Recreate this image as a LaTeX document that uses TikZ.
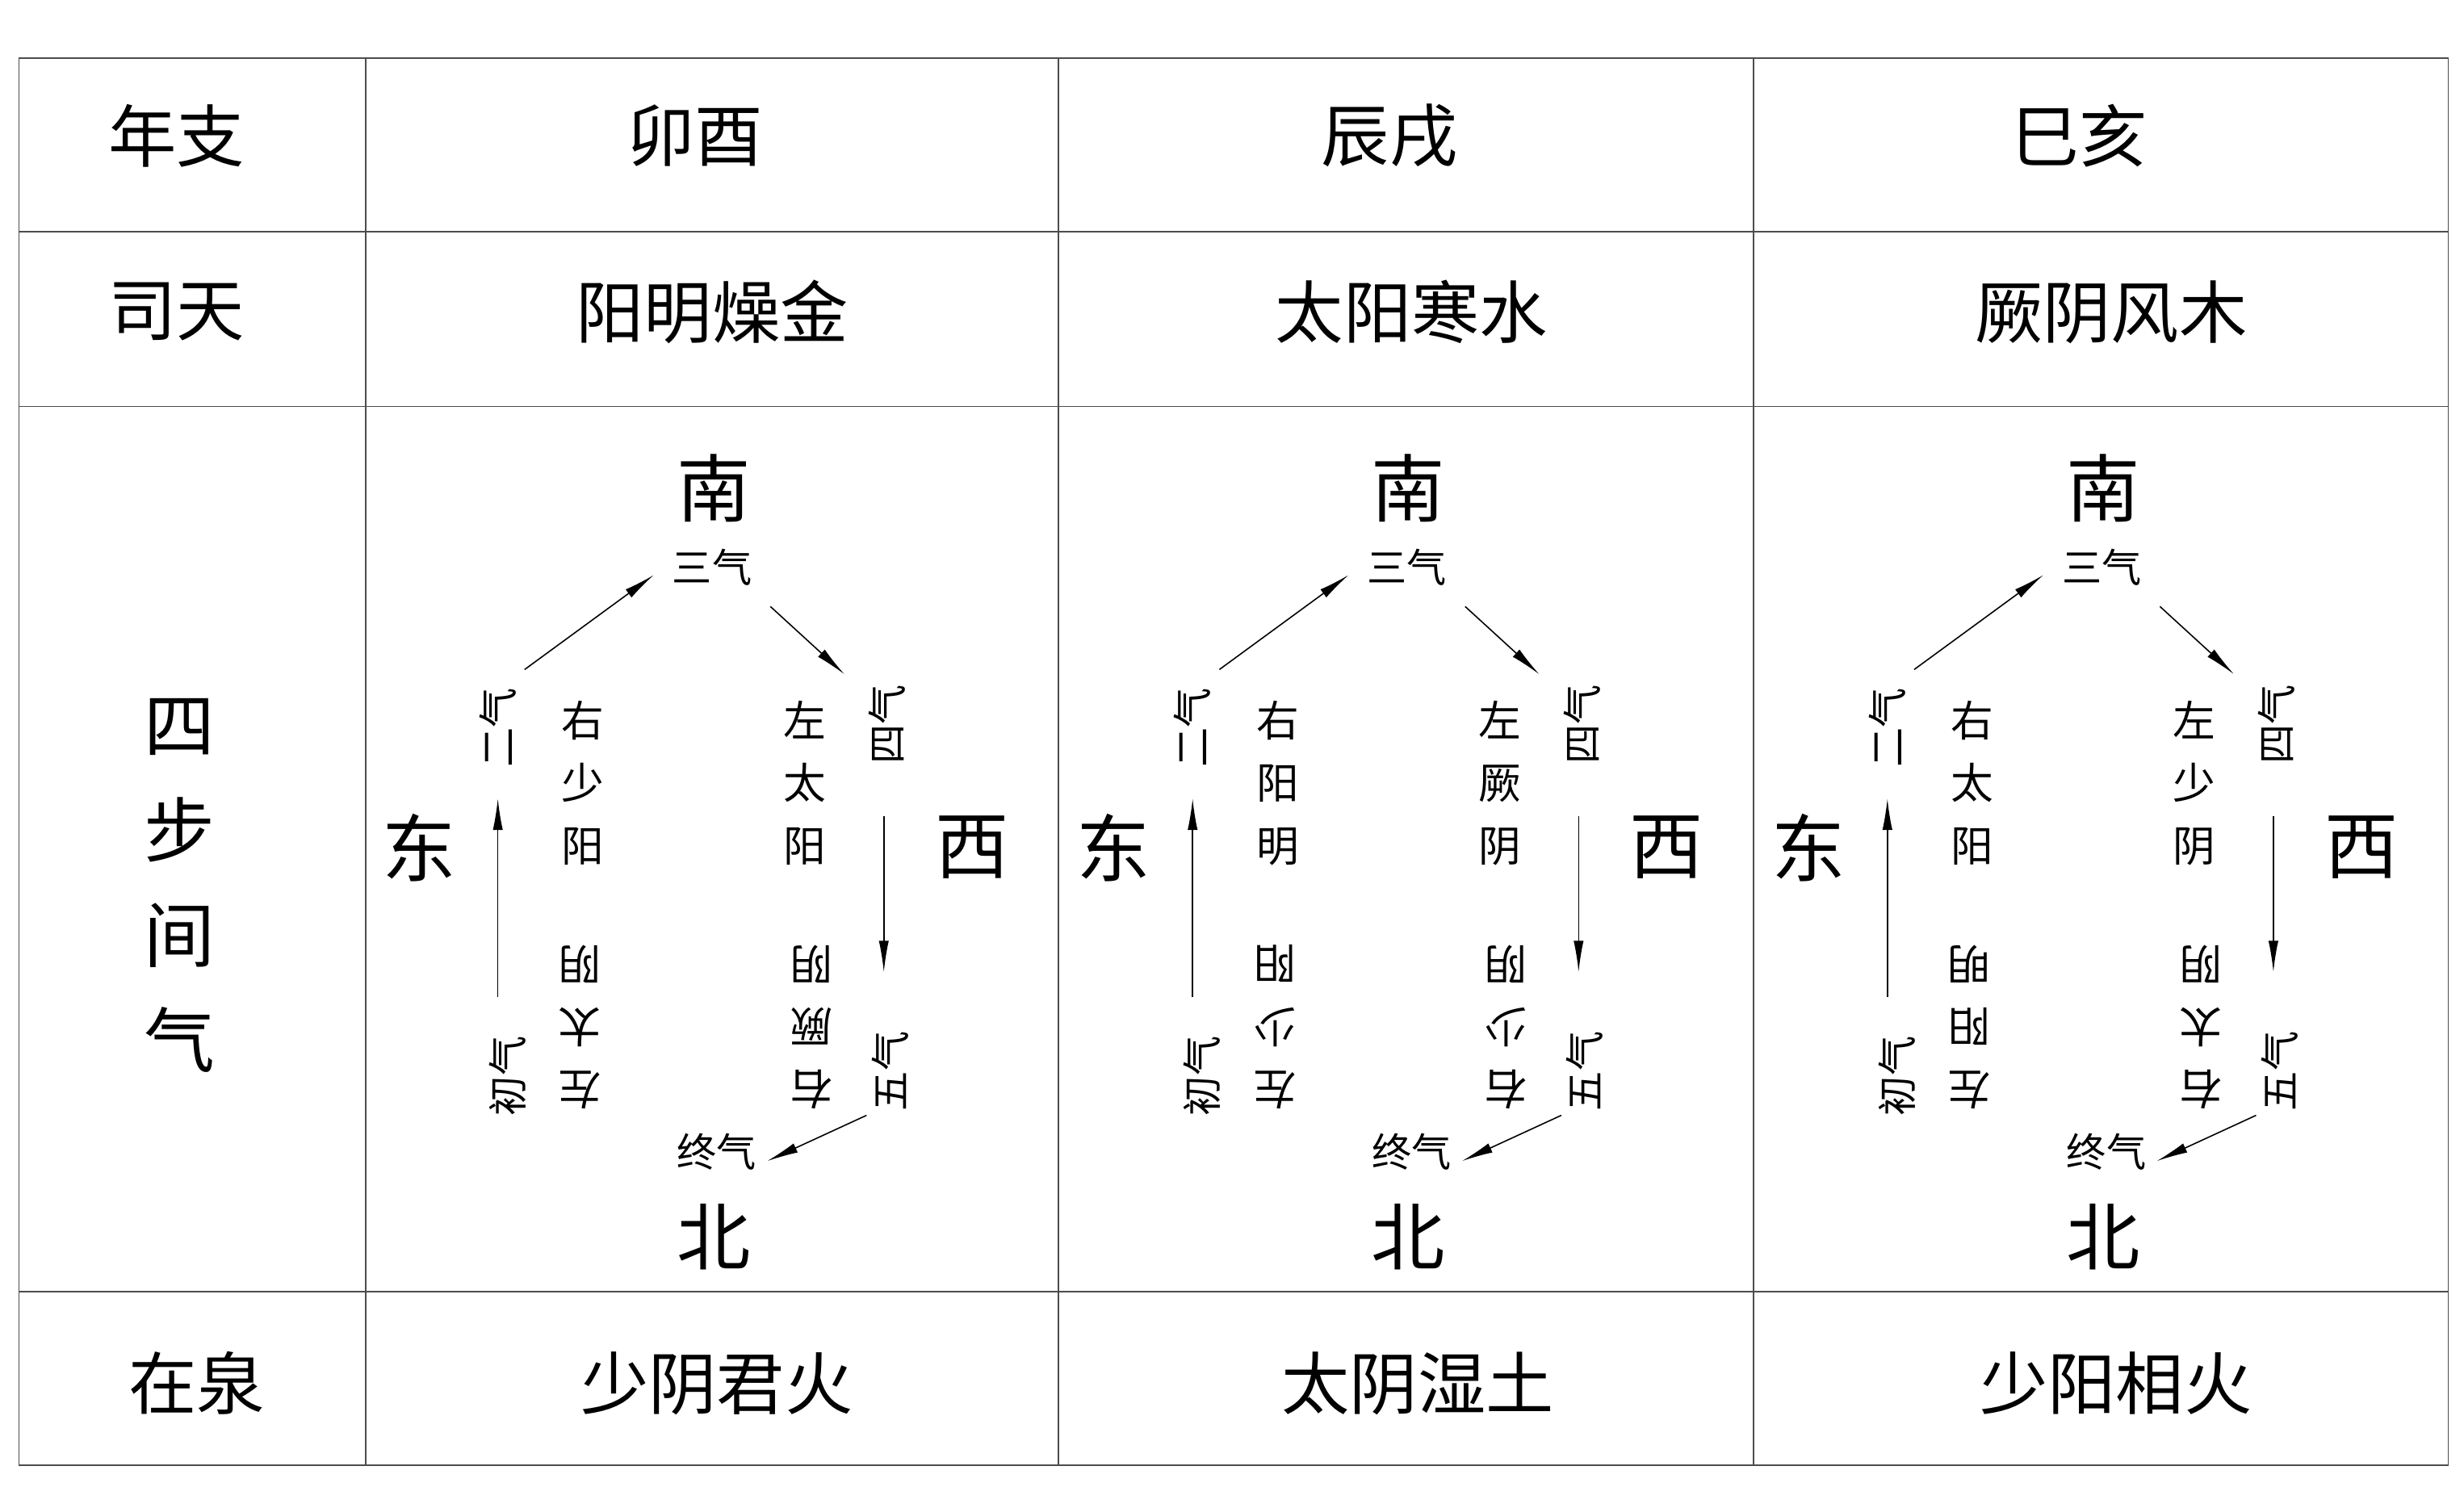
\documentclass[tikz,border=0pt]{standalone}
\usepackage{fontspec}
\setmainfont{Noto Sans CJK SC}
\usetikzlibrary{arrows.meta}
\begin{document}
\begin{tikzpicture}[x=0.01951cm,y=-0.01951cm,
  big/.style={font=\fontsize{24}{28}\selectfont},
  dir/.style={font=\fontsize{26}{28}\selectfont},
  qi/.style={font=\fontsize{14}{16}\selectfont,inner sep=3pt},
  lab/.style={font=\fontsize{15}{22}\selectfont,align=center,inner sep=0pt},
  arr/.style={-{Latex[length=11pt,width=3.5pt]},line width=0.45pt},
  grid/.style={line width=0.5pt,draw=black!70}]
\useasboundingbox (0,0) rectangle (1564,957);
\fill[white] (0,0) rectangle (1564,957);
% grid
\foreach \x in {12,232,672,1113,1554} \draw[grid] (\x,37) -- (\x,930);
\foreach \y in {37,147,258,820,930} \draw[grid] (12,\y) -- (1554,\y);
% left column
\node[big] (h1) at (112,86) {年支};
\node[big] (h2) at (112,198) {司天};
\node[big,align=center,font=\fontsize{25}{37}\selectfont] (h3) at (114,562) {四\\步\\间\\气};
\node[big] (h4) at (125,878) {在泉};
% headers
\node[big] (y1) at (441,86) {卯酉};
\node[big] (y2) at (882,86) {辰戌};
\node[big] (y3) at (1320,86) {巳亥};
\node[big] (s1) at (452,198) {阳明燥金};
\node[big] (s2) at (896,198) {太阳寒水};
\node[big] (s3) at (1340,198) {厥阴风木};
\node[big] (q1) at (455,878) {少阴君火};
\node[big] (q2) at (900,878) {太阴湿土};
\node[big] (q3) at (1343,878) {少阳相火};
% diagrams
\foreach \i/\dx/\a/\b/\c/\d in {
  1/0/右\\少\\阳/左\\太\\阳/左\\太\\阴/右\\厥\\阴,
  2/441/右\\阳\\明/左\\厥\\阴/左\\少\\阳/右\\少\\阴,
  3/882/右\\太\\阳/左\\少\\阴/左\\阳\\明/右\\太\\阴}{
  \begin{scope}[xshift=\dx*0.01951cm]
  \node[dir] (n\i) at (453,310) {南};
  \node[dir] (e\i) at (266,538) {东};
  \node[dir] (w\i) at (617,538) {西};
  \node[dir] (s\i) at (453,785) {北};
  \node[qi] (san\i) at (452,360) {三气};
  \node[qi] (zhong\i) at (455,731) {终气};
  \node[qi,rotate=90] (er\i) at (316,462) {二气};
  \node[qi,rotate=90] (chu\i) at (322,683) {初气};
  \node[qi,rotate=90] (si\i) at (563,460) {四气};
  \node[qi,rotate=90] (wu\i) at (565,680) {五气};
  \node[lab] (la\i) at (370,497) {\a};
  \node[lab] (lb\i) at (511,497) {\b};
  \node[lab,rotate=180] (lc\i) at (368,652) {\c};
  \node[lab,rotate=180] (ld\i) at (515,652) {\d};
  \coordinate (c1\i) at (316,633); \coordinate (c2\i) at (316,507);
  \coordinate (c3\i) at (333,425); \coordinate (c4\i) at (415,365);
  \coordinate (c5\i) at (489,385); \coordinate (c6\i) at (536,428);
  \coordinate (c7\i) at (561,518); \coordinate (c8\i) at (561,617);
  \coordinate (c9\i) at (550,708); \coordinate (c0\i) at (487,737);
  \draw[arr] (c1\i) -- (c2\i);
  \draw[arr] (c3\i) -- (c4\i);
  \draw[arr] (c5\i) -- (c6\i);
  \draw[arr] (c7\i) -- (c8\i);
  \draw[arr] (c9\i) -- (c0\i);
  \end{scope}
}
\end{tikzpicture}
\end{document}
